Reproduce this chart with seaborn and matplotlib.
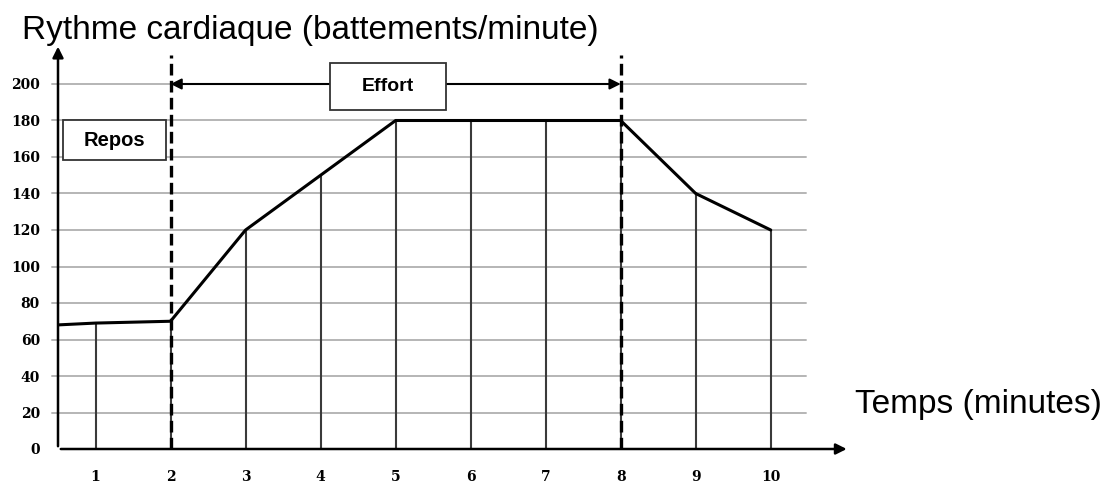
import matplotlib
matplotlib.use("Agg")
import matplotlib.pyplot as plt
import seaborn as sns
import pandas as pd
from matplotlib.patches import Rectangle

# ---- data ----
temps = [1, 2, 3, 4, 5, 6, 7, 8, 9, 10]
rythme = [69, 70, 120, 150, 180, 180, 180, 180, 140, 120]
y_ticks = [0, 20, 40, 60, 80, 100, 120, 140, 160, 180, 200]
x_ticks = [1, 2, 3, 4, 5, 6, 7, 8, 9, 10]
debut_effort = 2
fin_effort = 8
titre_y = "Rythme cardiaque (battements/minute)"
titre_x = "Temps (minutes)"

sns.set_theme(style="white")
plt.rcParams['font.family'] = ['Liberation Sans', 'DejaVu Sans']
plt.rcParams['text.color'] = 'black'
plt.rcParams['xtick.color'] = 'black'
plt.rcParams['ytick.color'] = 'black'

fig = plt.figure(figsize=(11.13, 4.84), dpi=100)
ax = fig.add_axes([58 / 1113, 35 / 484, 802 / 1113, (449 - 25.6) / 484])
XMIN, XMAX = 0.5, 11.19
YMIN, YMAX = 0, 232
ax.set_xlim(XMIN, XMAX)
ax.set_ylim(YMIN, YMAX)
for s in ax.spines.values():
    s.set_visible(False)

# horizontal grid lines
for yt in y_ticks[1:]:
    ax.plot([XMIN - 0.08, 10.47], [yt, yt], color="#b5b5b5", lw=1.4, zorder=1, clip_on=False)

# drop lines
for xv, yv in zip(temps, rythme):
    ax.plot([xv, xv], [0, yv], color="#3a3a3a", lw=1.5, zorder=2)

# dashed effort limits
for xv in (debut_effort, fin_effort):
    ax.plot([xv, xv], [0, 216], color="black", lw=2.4, ls=(0, (3.5, 1.6)), zorder=4)

# main line
df = pd.DataFrame({"temps": [XMIN] + temps, "rythme": [68] + rythme})
sns.lineplot(data=df, x="temps", y="rythme", color="black", lw=2.2, ax=ax, zorder=5,
             sort=False)

# axes with arrows
ax.annotate("", xy=(11.05, 0), xytext=(XMIN, 0),
            arrowprops=dict(arrowstyle="-|>", color="black", lw=1.8, mutation_scale=16), zorder=6)
ax.annotate("", xy=(XMIN, 222), xytext=(XMIN, 0),
            arrowprops=dict(arrowstyle="-|>", color="black", lw=1.8, mutation_scale=16), zorder=6,
            annotation_clip=False)

# effort arrow
ax.annotate("", xy=(fin_effort, 200), xytext=(debut_effort, 200),
            arrowprops=dict(arrowstyle="<|-|>", color="black", lw=1.5, mutation_scale=16,
                            shrinkA=0, shrinkB=0), zorder=6)

# boxes
ax.add_patch(Rectangle((4.12, 185.8), 1.547, 25.7, facecolor="white", edgecolor="#333333",
                       lw=1.3, zorder=7))
ax.text(4.12 + 1.547 / 2, 198.6, "Effort", ha="center", va="center", fontsize=14,
        fontweight="bold", color="black", zorder=8)
ax.add_patch(Rectangle((0.573, 158.4), 1.36, 21.9, facecolor="white", edgecolor="#333333",
                       lw=1.3, zorder=7))
ax.text(0.573 + 0.68, 168.8, "Repos", ha="center", va="center", fontsize=14.5,
        fontweight="bold", color="black", zorder=8)

# ticks
ax.set_xticks(x_ticks)
ax.set_yticks(y_ticks)
ax.set_xticklabels([str(v) for v in x_ticks], family="DejaVu Serif", fontweight="bold", fontsize=10)
ax.set_yticklabels([str(v) for v in y_ticks], family="DejaVu Serif", fontweight="bold", fontsize=10)
ax.tick_params(axis="x", length=0, pad=15, labelcolor="black")
ax.tick_params(axis="y", length=0, pad=13, labelcolor="black")
ax.set_xlabel("")
ax.set_ylabel("")

# titles
fig.text(22 / 1113, 1 - 30 / 484, titre_y, fontsize=24, ha="left", va="center", color="black")
fig.text(855 / 1113, 1 - 405 / 484, titre_x, fontsize=24, ha="left", va="center", color="black")

fig.savefig("out.png", dpi=100)
